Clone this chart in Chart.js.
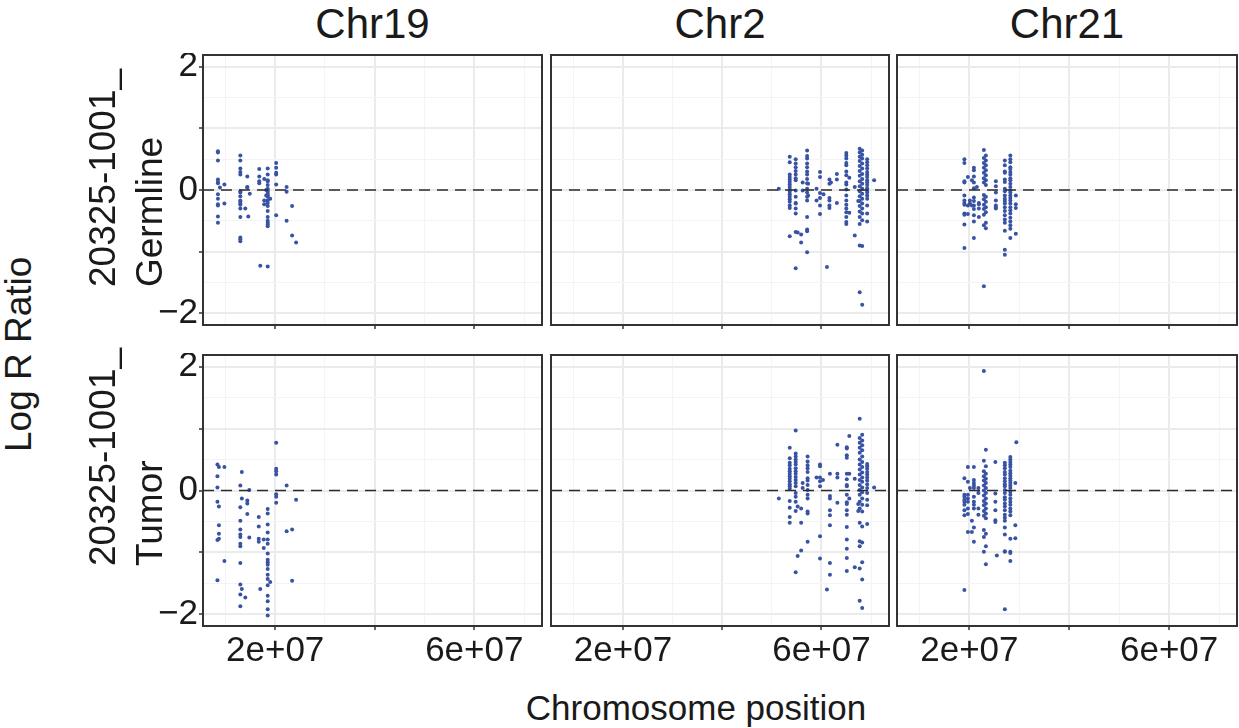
<!DOCTYPE html>
<html><head><meta charset="utf-8">
<script src="https://cdn.jsdelivr.net/npm/chart.js@4.4.0/dist/chart.umd.min.js"></script>
<style>
html,body{margin:0;padding:0;background:#fff;}
body{width:1239px;height:728px;position:relative;overflow:hidden;font-family:'Liberation Sans',Arial,sans-serif;color:#1a1a1a;}
canvas{position:absolute;}
.t{position:absolute;white-space:nowrap;color:#1a1a1a;font-family:'Liberation Sans',Arial,sans-serif;}
.rot{transform-origin:0 0;transform:rotate(-90deg);text-align:left;}
</style></head><body>
<script>
// ---------------- DATA (positions in Mb, values = Log R Ratio) ----------------
const chromosomes = ['Chr19', 'Chr2', 'Chr21'];
const samples = ['20325-1001_\nGermline', '20325-1001_\nTumor'];
const xTickValues = [2e7, 4e7, 6e7];
const xTickLabels = {20000000: '2e+07', 60000000: '6e+07'};
const yTickValues = [-2, -1, 0, 1, 2];
const yTickLabels = {'2': '2', '0': '0', '-2': '\u22122'};

const chr19Germline = [
  [8.5, [0.63, 0.61, 0.48, 0.17, 0.13, 0.11, -0.07, -0.14, -0.23, -0.25, -0.43, -0.53]],
  [8.9, [0.04]], [9.8, [0.09, -0.22]],
  [13.0, [0.56, 0.48, 0.35, 0.29, 0.25, -0.02, -0.04, -0.10, -0.17, -0.19, -0.22, -0.24, -0.30, -0.44, -0.77, -0.80, -0.83]],
  [14.0, [-0.30]], [14.4, [0.22, 0.05, 0.04]], [14.6, [-0.43]], [14.9, [-0.06]],
  [16.8, [0.34, 0.22, 0.14, 0.11]], [17.0, [-1.23]], [17.8, [0.18, -0.17, -0.23]], [18.2, [0.0, -0.09]],
  [18.5, [0.35, 0.25, 0.16, 0.14, 0.08, 0.02, 0.0, -0.03, -0.06, -0.09, -0.11, -0.17, -0.21, -0.26, -0.34, -0.44, -0.50, -0.53, -0.56, -0.59, -1.24]],
  [19.0, [-0.14]], [20.2, [0.44, 0.36, 0.28, 0.25, 0.09, -0.41]],
  [22.3, [0.05, -0.03, -0.50]], [23.4, [-0.26, -0.74]], [24.2, [-0.85]]
];
const chr19Tumor = [
  [8.4, [0.42, 0.23, 0.05, -0.18, -0.80, -1.45]], [8.7, [0.38, -0.26, -0.56, -0.70, -0.78]], [9.8, [0.38, -1.14]],
  [13.0, [0.08, -0.27, -0.49, -0.63, -0.71, -0.75, -0.86, -0.90, -1.17, -1.52, -1.68, -1.87]],
  [13.3, [0.30, -0.13, -1.59]], [14.0, [-1.73]], [14.4, [-0.16, -0.21, -0.38]], [14.8, [0.01, -0.76]],
  [16.7, [-0.43, -0.58, -0.78, -0.83]], [17.0, [-1.59]], [17.7, [-0.79, -0.93]],
  [18.5, [-0.30, -0.37, -0.55, -0.68, -0.79, -0.86, -1.02, -1.12, -1.16, -1.20, -1.27, -1.36, -1.43, -1.53, -1.70, -1.79, -1.92, -2.02]],
  [19.0, [-1.48]], [20.2, [0.77, 0.35, 0.31, 0.26, -0.06, -0.10, -0.20]],
  [22.3, [0.08, -0.66]], [23.4, [-0.63, -1.46]], [24.2, [-0.15]]
];
const chr2Germline = [
  [51.4, [0.02]],
  [53.6, [0.54, 0.45, 0.25, 0.21, 0.17, 0.13, 0.09, 0.05, 0.01, -0.03, -0.07, -0.11, -0.15, -0.19, -0.25, -0.29, -0.75]],
  [54.8, [0.50, 0.43, 0.37, 0.31, 0.25, 0.19, 0.16, -0.01, -0.11, -0.21, -0.22, -0.30, -0.38, -0.68, -1.27]],
  [55.2, [-0.69]], [55.9, [-0.72, -0.85]], [56.2, [0.12, -0.01]],
  [57.1, [0.64, 0.55, 0.51, 0.43, 0.37, 0.30, 0.25, 0.18, 0.11, 0.02, -0.04, -0.11, -0.17, -0.44, -0.64, -0.67, -1.01]],
  [57.3, [0.10, -0.09]], [59.0, [0.02, -0.17]], [59.7, [0.29, 0.21, -0.05, -0.13, -0.25, -0.39]],
  [60.4, [-0.07]], [61.1, [-1.25]], [61.6, [0.17, 0.10, -0.13, -0.17, -0.25, -0.29]], [61.9, [0.12]],
  [63.1, [0.26, 0.17, -0.21]],
  [65.0, [0.60, 0.56, 0.51, 0.44, 0.40, 0.30, 0.24, 0.12, 0.09, 0.01, -0.09, -0.17, -0.24, -0.30, -0.36, -0.44, -0.52, -0.55]],
  [65.6, [0.20, -0.37]], [66.7, [0.05, -0.74]], [67.4, [-0.18]],
  [67.7, [0.67, 0.61, 0.54, 0.47, 0.39, 0.31, 0.23, 0.14, 0.06, -0.02, -0.10, -0.18, -0.26, -0.35, -0.44, -0.55, -0.90, -1.66]],
  [68.2, [0.64, 0.57, 0.51, 0.43, 0.35, 0.26, 0.18, 0.10, 0.02, -0.06, -0.14, -0.22, -0.30, -0.38, -0.49, -0.91, -1.86]],
  [69.2, [0.50, 0.45, 0.40, 0.35, 0.29, 0.25, 0.21, 0.16, 0.12, 0.08, 0.03, -0.01, -0.04, -0.09, -0.14, -0.25, -0.38, -0.51]],
  [70.6, [0.16]]
];
const chr2Tumor = [
  [51.4, [-0.13]],
  [53.6, [0.69, 0.52, 0.45, 0.41, 0.35, 0.31, 0.27, 0.23, 0.19, 0.15, 0.10, 0.07, 0.03, -0.17, -0.28, -0.43, -0.52]],
  [54.8, [0.97, 0.60, 0.55, 0.50, 0.46, 0.42, 0.36, 0.31, 0.27, 0.22, 0.17, 0.12, 0.07, -0.04, -0.10, -0.18, -0.33, -1.32]],
  [55.2, [-0.26, -1.06]], [55.9, [-0.29, -0.52, -0.97]], [56.2, [0.12, 0.04]],
  [57.2, [0.55, 0.47, 0.41, 0.36, 0.30, 0.20, 0.16, 0.09, 0.01, -0.07, -0.13, -0.34, -0.37, -0.83]],
  [59.0, [0.21]], [59.7, [0.42, 0.39, 0.21, 0.15, 0.07, -0.74, -1.10]], [60.3, [0.17]], [61.1, [-1.60]],
  [61.7, [0.27, -0.09, -0.13, -0.32, -0.40, -0.56, -1.17, -1.36]], [63.2, [0.74, 0.27, 0.21, -0.20]],
  [65.1, [0.70, 0.68, 0.57, 0.53, 0.27, 0.18, 0.09, 0.07, -0.07, -0.19, -0.22, -0.32, -0.39, -0.59, -0.79, -0.94, -1.09, -1.30]],
  [65.6, [0.88, 0.27, -0.13]], [66.7, [0.19, -1.24]], [67.4, [-0.22, -0.33]],
  [67.7, [1.16, 0.85, 0.77, 0.69, 0.61, 0.50, 0.42, 0.34, 0.26, 0.17, 0.09, 0.01, -0.07, -0.18, -0.29, -0.52, -0.82, -0.90, -1.26, -1.78]],
  [68.2, [0.90, 0.81, 0.73, 0.65, 0.55, 0.46, 0.38, 0.29, 0.21, 0.14, 0.05, -0.03, -0.13, -0.23, -0.34, -0.58, -0.84, -1.16, -1.44, -1.90]],
  [69.2, [0.43, 0.39, 0.35, 0.30, 0.26, 0.21, 0.16, 0.10, 0.04, -0.04, -0.15, -0.24, -0.54]],
  [70.6, [0.05]]
];
const chr21Germline = [
  [19.0, [0.50, 0.44, 0.14, 0.12, -0.09, -0.17, -0.21, -0.24, -0.38, -0.40, -0.56, -0.94]],
  [19.7, [0.21, -0.25, -0.39]], [20.1, [-0.17, -0.22]], [20.5, [0.16, -0.25]],
  [20.9, [0.36, 0.32, 0.22, 0.12, 0.03, -0.12, -0.18, -0.25, -0.31, -0.41, -0.51, -0.78]],
  [21.5, [0.05]], [21.9, [-0.21, -0.23, -0.30, -0.44]],
  [22.9, [0.65, 0.52, 0.44, 0.36, 0.28, 0.19, 0.12, -0.08, -0.15, -0.24, -0.31, -0.40, -0.57, -1.56]],
  [23.3, [0.56, 0.48, 0.40, 0.32, 0.24, 0.16, 0.08, -0.11, -0.19, -0.28, -0.36, -0.53, -0.62]],
  [25.3, [0.14, 0.06, -0.04, -0.17, -0.25, -0.28, -0.30]],
  [27.1, [0.48, 0.40, 0.30, 0.28, 0.17, 0.13, 0.02, -0.02, -0.09, -0.14, -0.18, -0.22, -0.28, -0.34, -0.41, -0.48, -0.53, -0.66, -0.97, -1.05]],
  [28.2, [0.56, 0.50, 0.45, 0.37, 0.34, 0.29, 0.25, 0.19, 0.16, 0.10, 0.05, -0.01, -0.04, -0.09, -0.13, -0.17, -0.22, -0.28, -0.33, -0.38, -0.45, -0.51, -0.57, -0.63, -0.78]],
  [29.3, [-0.09, -0.23, -0.29, -0.71]]
];
const chr21Tumor = [
  [19.0, [0.20, -0.07, -0.10, -0.15, -0.18, -0.23, -0.32, -0.40, -1.61]],
  [19.7, [0.38, 0.14, -0.07, -0.13, -0.18, -0.29, -0.38, -0.67]], [20.1, [0.04]], [20.5, [-0.49, -0.67]],
  [20.9, [0.38, 0.17, 0.12, 0.08, 0.04, -0.10, -0.18, -0.23, -0.29, -0.60, -0.83]],
  [21.8, [0.04, -0.04, -0.29, -0.39]],
  [22.9, [1.93, 0.48, 0.31, 0.23, 0.16, 0.08, 0.0, -0.08, -0.17, -0.24, -0.33, -0.41, -0.64, -0.75, -0.99]],
  [23.3, [0.66, 0.39, 0.27, 0.19, 0.12, 0.04, -0.04, -0.13, -0.21, -0.29, -0.37, -0.45, -0.70, -0.90, -1.19]],
  [25.2, [0.46, -0.05, -0.18, -0.32, -0.48, -0.51]], [25.5, [-1.05]],
  [27.1, [0.45, 0.41, 0.36, 0.30, 0.26, 0.20, 0.15, 0.10, 0.07, 0.01, -0.04, -0.11, -0.15, -0.21, -0.26, -0.32, -0.39, -0.44, -0.49, -0.60, -0.71, -0.98, -0.99, -1.92]],
  [28.2, [0.54, 0.50, 0.46, 0.42, 0.38, 0.32, 0.28, 0.24, 0.20, 0.16, 0.12, 0.08, 0.04, -0.02, -0.07, -0.13, -0.18, -0.23, -0.29, -0.34, -0.40, -0.78, -0.99, -1.01, -1.14]],
  [29.2, [0.12, -0.56, -0.77]], [29.4, [0.78]]
];
const panelData = [[chr19Germline, chr2Germline, chr21Germline], [chr19Tumor, chr2Tumor, chr21Tumor]];

// ---------------- LAYOUT / STYLE ----------------
const X_MIN = 5.5e6, X_MAX = 7.36e7, Y_MIN = -2.19, Y_MAX = 2.19;
const X_GRID = [1e7, 2e7, 3e7, 4e7, 5e7, 6e7, 7e7];
const Y_GRID = [-2, -1.5, -1, -0.5, 0, 0.5, 1, 1.5, 2];
const COLS = [{l: 203, r: 542}, {l: 551, r: 889}, {l: 897, r: 1237}];
const ROWS = [{t: 55, b: 325}, {t: 355, b: 626}];
const FONT = "'Liberation Sans', Arial, sans-serif";
const TXT = '#1a1a1a';
const POINT = '#3953A4';

function expand(cols) {
  const out = [];
  cols.forEach(([p, vals]) => vals.forEach(v => out.push({x: p * 1e6, y: v})));
  return out;
}

const framePlugin = {
  id: 'frame',
  afterDatasetsDraw(chart) {
    const {ctx, chartArea: a, scales} = chart;
    const y0 = scales.y.getPixelForValue(0);
    ctx.save();
    ctx.beginPath();
    ctx.rect(a.left, a.top, a.right - a.left, a.bottom - a.top);
    ctx.clip();
    ctx.strokeStyle = '#2b2b2b';
    ctx.lineWidth = 1.4;
    ctx.setLineDash([11, 7]);
    ctx.beginPath();
    ctx.moveTo(a.left, y0);
    ctx.lineTo(a.right, y0);
    ctx.stroke();
    ctx.restore();
  },
  afterDraw(chart) {
    const {ctx, chartArea: a} = chart;
    ctx.save();
    ctx.strokeStyle = '#333333';
    ctx.lineWidth = 2;
    ctx.strokeRect(a.left, a.top, a.right - a.left, a.bottom - a.top);
    ctx.restore();
  }
};

function zeroPad(s) { s.paddingTop = 0; s.paddingBottom = 0; s.paddingLeft = 0; s.paddingRight = 0; }

function makePanel(r, c) {
  const col = COLS[c], row = ROWS[r];
  const yw = c === 0 ? 60 : 0;
  const pl = c === 0 ? 0 : 2;
  const pr = 2, pt = 2;
  const xh = r === 1 ? 50 : 6;
  const cv = document.createElement('canvas');
  const W = (col.r - col.l) + yw + pl + pr;
  const H = (row.b - row.t) + pt + xh;
  cv.width = W; cv.height = H;
  cv.style.left = (col.l - yw - pl) + 'px';
  cv.style.top = (row.t - pt) + 'px';
  cv.style.width = W + 'px'; cv.style.height = H + 'px';
  document.body.appendChild(cv);

  const isMajorX = v => xTickValues.includes(v);
  const isMajorY = v => yTickValues.includes(v);

  new Chart(cv, {
    type: 'scatter',
    data: {datasets: [{
      data: expand(panelData[r][c]),
      pointRadius: 2, pointHoverRadius: 2, pointBorderWidth: 0,
      pointBackgroundColor: POINT, pointBorderColor: POINT
    }]},
    options: {
      responsive: false, animation: false, events: [],
      layout: {padding: {left: pl, right: pr, top: pt, bottom: 0}, autoPadding: false},
      plugins: {legend: {display: false}, tooltip: {enabled: false}},
      scales: {
        x: {
          type: 'linear', position: 'bottom', min: X_MIN, max: X_MAX,
          afterBuildTicks: s => { s.ticks = X_GRID.map(v => ({value: v})); },
          afterFit: s => { s.height = xh; zeroPad(s); },
          border: {display: false},
          grid: {
            color: ctx => (ctx.tick && isMajorX(ctx.tick.value)) ? '#EBEBEB' : '#F4F4F4',
            lineWidth: ctx => (ctx.tick && isMajorX(ctx.tick.value)) ? 2 : 1,
            drawTicks: true, tickLength: 4, tickWidth: 1.5,
            tickColor: ctx => (ctx.tick && isMajorX(ctx.tick.value)) ? '#333333' : 'rgba(0,0,0,0)'
          },
          ticks: {
            display: r === 1, autoSkip: false, maxRotation: 0, minRotation: 0, padding: 0,
            color: TXT, font: {family: FONT, size: 35},
            callback: v => xTickLabels[v] || ''
          }
        },
        y: {
          type: 'linear', position: 'left', min: Y_MIN, max: Y_MAX,
          afterBuildTicks: s => { s.ticks = Y_GRID.map(v => ({value: v})); },
          afterFit: s => { s.width = yw; zeroPad(s); },
          border: {display: false},
          grid: {
            color: ctx => (ctx.tick && isMajorY(ctx.tick.value)) ? '#EBEBEB' : '#F4F4F4',
            lineWidth: ctx => (ctx.tick && isMajorY(ctx.tick.value)) ? 2 : 1,
            drawTicks: c === 0, tickLength: 4, tickWidth: 1.5,
            tickColor: ctx => (ctx.tick && isMajorY(ctx.tick.value)) ? '#333333' : 'rgba(0,0,0,0)'
          },
          ticks: {
            display: c === 0, autoSkip: false, padding: 1,
            color: TXT, font: {family: FONT, size: 35},
            callback: v => yTickLabels[String(v)] || ''
          }
        }
      }
    },
    plugins: [framePlugin]
  });
}

for (let r = 0; r < 2; r++) for (let c = 0; c < 3; c++) makePanel(r, c);

// ---------------- TEXT ----------------
function addText(txt, css) {
  const d = document.createElement('div');
  d.className = 't';
  d.textContent = txt;
  Object.assign(d.style, css);
  document.body.appendChild(d);
  return d;
}
chromosomes.forEach((name, c) => {
  const cx = (COLS[c].l + COLS[c].r) / 2;
  addText(name, {left: (cx - 150) + 'px', width: '300px', textAlign: 'center', top: '3px', fontSize: '42px', lineHeight: '42px'});
});
addText('Chromosome position', {left: '396px', width: '600px', textAlign: 'center', top: '690px', fontSize: '35px', lineHeight: '35px'});
const yl = addText('Log R Ratio', {left: '0px', top: '452px', fontSize: '37px', lineHeight: '37px'});
yl.classList.add('rot');
const rowStarts = [287, 566];
samples.forEach((s, r) => {
  const d = addText('', {left: '79px', top: rowStarts[r] + 'px', fontSize: '37px', lineHeight: '47px', whiteSpace: 'pre'});
  d.textContent = s;
  d.classList.add('rot');
});
</script>
</body></html>
